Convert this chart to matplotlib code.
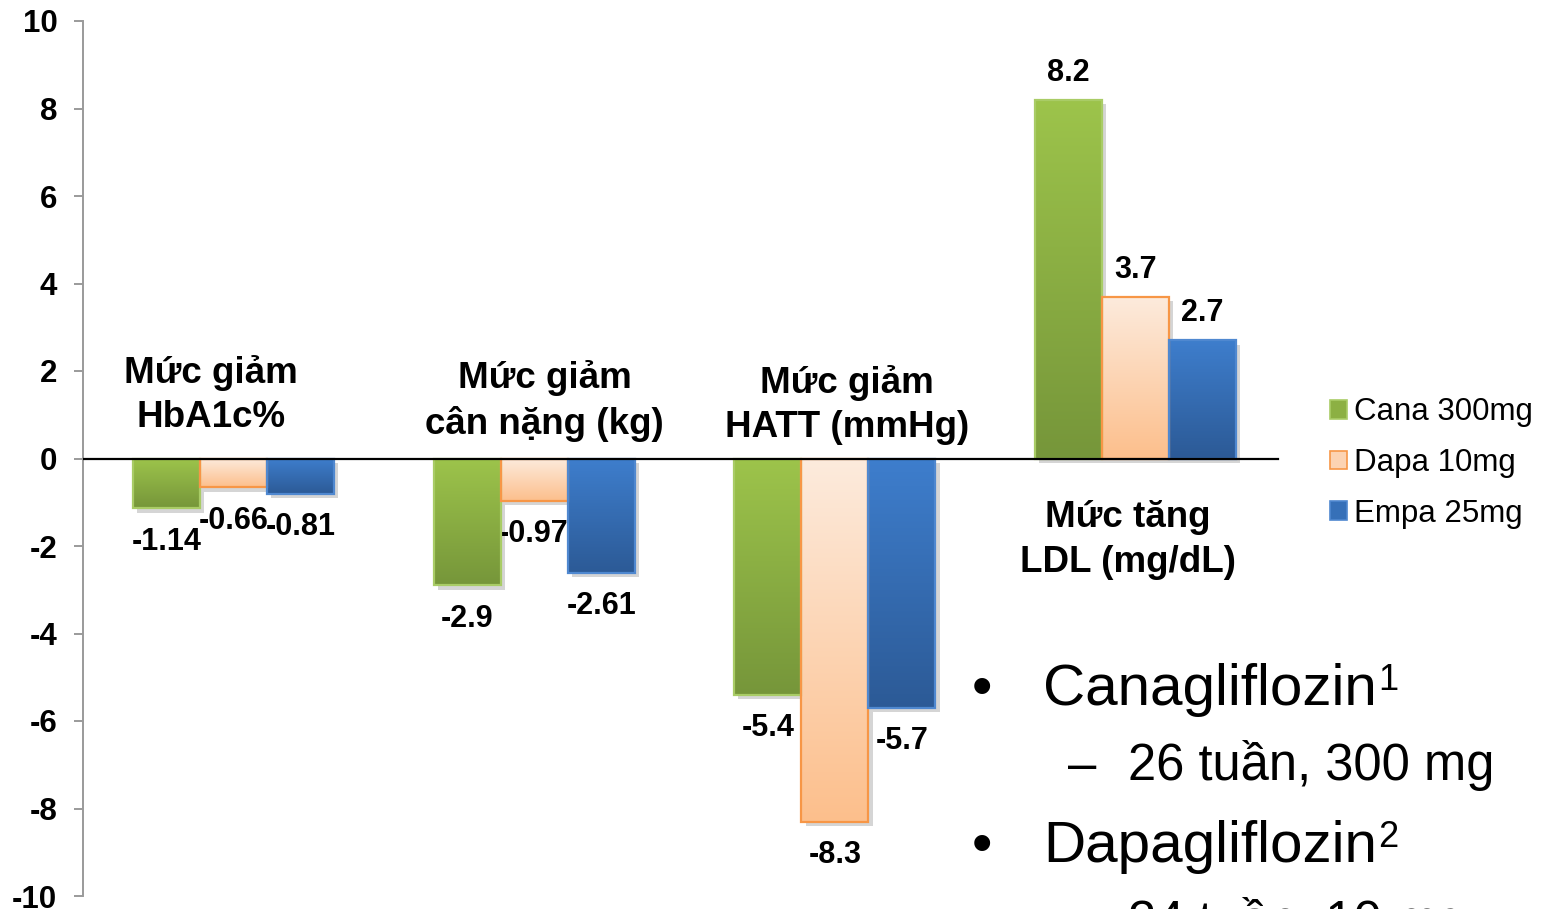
import numpy as np
import matplotlib
matplotlib.use("Agg")
import matplotlib.pyplot as plt
from matplotlib.colors import LinearSegmentedColormap
from matplotlib.patches import Patch
from matplotlib import patheffects as pe

plt.rcParams['font.family'] = ['Liberation Sans', 'DejaVu Sans']

# data
groups = ["Mức giảm\nHbA1c%", "Mức giảm\ncân nặng (kg)", "Mức giảm\nHATT (mmHg)", "Mức tăng\nLDL (mg/dL)"]
series = ["Cana 300mg", "Dapa 10mg", "Empa 25mg"]
cana = [-1.14, -2.9, -5.4, 8.2]
dapa = [-0.66, -0.97, -8.3, 3.7]
empa = [-0.81, -2.61, -5.7, 2.7]
yticks = [-10, -8, -6, -4, -2, 0, 2, 4, 6, 8, 10]

# gradient (top, bottom), edge and legend colours per series
grad = [("#9dc44b", "#76963a"), ("#fdebdd", "#fcbf8c"), ("#3e7ecd", "#2c5a96")]
edges = ["#a9cc66", "#f79646", "#4f88d0"]
solid = ["#8cb043", "#fcd3b2", "#3670b8"]

fig = plt.figure(figsize=(15.42, 9.09), dpi=100)
ax = fig.add_axes([83 / 1542, 1 - 896 / 909, (1286 - 83) / 1542, (896 - 21) / 909])

x = np.arange(len(groups))
w = 0.223
label_kw = dict(fontsize=22, fontweight='bold', ha='center', va='center',
                textcoords='offset points')

for k, vals in enumerate([cana, dapa, empa]):
    cmap = LinearSegmentedColormap.from_list("g%d" % k, [grad[k][1], grad[k][0]])
    xs = x + (k - 1) * w
    bars = ax.bar(xs, vals, w, facecolor=solid[k], edgecolor='none', zorder=2,
                  path_effects=[pe.SimplePatchShadow(offset=(3, -3), shadow_rgbFace='#888888', alpha=0.35),
                                pe.Normal()])
    for rect, v in zip(bars, vals):
        x0 = rect.get_x()
        y0, y1 = sorted([0, v])
        img = ax.imshow(np.linspace(0, 1, 256).reshape(-1, 1), cmap=cmap, origin='lower',
                        extent=[x0, x0 + w, y0, y1], aspect='auto', zorder=3)
        img.set_clip_path(rect)
        ax.bar(rect.get_x() + w / 2, v, w, facecolor='none', edgecolor=edges[k],
               linewidth=1.6, zorder=4)
        off = 19.5 if v > 0 else -24
        ax.annotate(f"{v:g}", xy=(rect.get_x() + w / 2, v), xytext=(0, off), **label_kw)

# category captions
cap_pos = [(-0.075, 1.45), (1.035, 1.32), (2.04, 1.22), (2.973, -1.86)]
for g, (cx, cy) in zip(groups, cap_pos):
    ax.text(cx, cy, g, fontsize=26.5, fontweight='bold', ha='center', va='center',
            linespacing=1.36, zorder=5)

ax.axhline(0, xmin=0, xmax=(1278 - 83) / (1286 - 83), color='black', lw=1.6, zorder=5)
ax.set_xlim(-0.5, 3.5)
ax.set_ylim(-10, 10)
ax.set_yticks(yticks)
ax.set_yticklabels([str(t) for t in yticks], fontsize=22.5, fontweight='bold')
ax.set_xticks([])
for s in ['top', 'right', 'bottom']:
    ax.spines[s].set_visible(False)
ax.spines['left'].set_color('#9a9a9a')
ax.spines['left'].set_linewidth(1.4)
ax.tick_params(axis='y', direction='out', length=6.5, width=1.4, color='#9a9a9a', pad=12)

handles = [Patch(facecolor=solid[k], edgecolor=edges[k], linewidth=1.2) for k in range(3)]
fig.legend(handles, series, loc='center left', bbox_to_anchor=(1330 / 1542, 1 - 463 / 909),
           frameon=False, fontsize=22.5, handlelength=0.55, handleheight=0.55,
           handletextpad=0.22, labelspacing=0.66, borderpad=0, borderaxespad=0)

# bullet notes
def bullet(y, text, sup):
    fig.text(972 / 1542, y, "•", fontsize=42, ha='left', va='baseline')
    t = fig.text(1043 / 1542, y, text, fontsize=42, ha='left', va='baseline')
    plt.annotate(sup, xy=(1, 1), xycoords=t, xytext=(1, 0), textcoords='offset points',
                 fontsize=26, ha='left', va='top', annotation_clip=False)

def sub(y, text):
    fig.text(1068 / 1542, y, "–", fontsize=36.5, ha='left', va='baseline')
    fig.text(1128 / 1542, y, text, fontsize=36.5, ha='left', va='baseline')

bullet(1 - 705 / 909, "Canagliflozin", "1")
sub(1 - 780 / 909, "26 tuần, 300 mg")
bullet(1 - 862 / 909, "Dapagliflozin", "2")
sub(1 - 937 / 909, "24 tuần, 10 mg")

fig.savefig("out.png", dpi=100)
